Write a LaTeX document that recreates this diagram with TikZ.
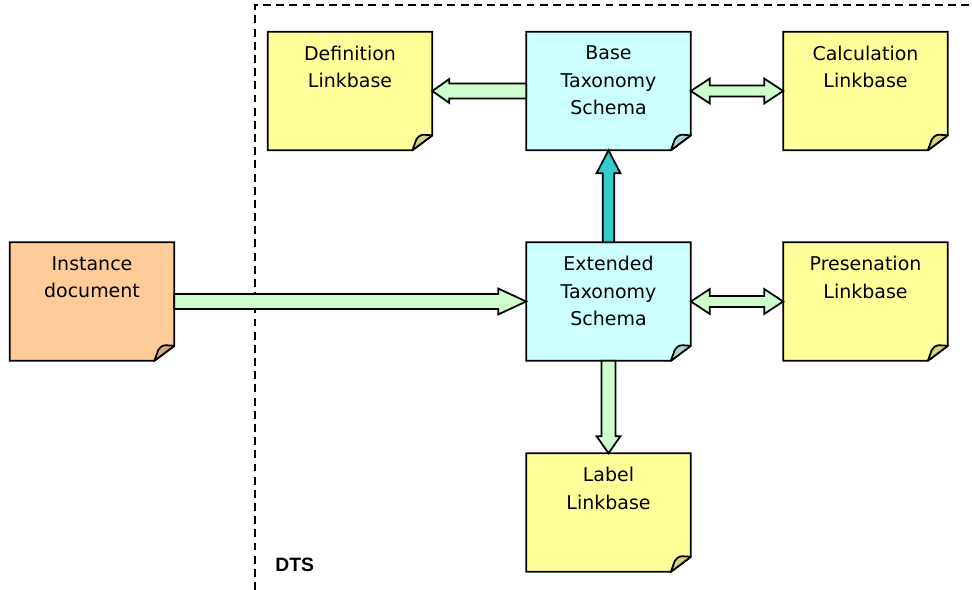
\documentclass[tikz,border=0pt]{standalone}
\usepackage{fontspec}
\setmainfont{DejaVu Sans}
\newfontfamily\dtsfont{Liberation Sans}
\usepackage{tikz}
\usetikzlibrary{calc,backgrounds}

\definecolor{notey}{HTML}{FFFF99}
\definecolor{foldy}{HTML}{D6D680}
\definecolor{notec}{HTML}{CCFFFF}
\definecolor{foldc}{HTML}{A8D6D6}
\definecolor{noteo}{HTML}{FFCC99}
\definecolor{foldo}{HTML}{D6AA80}
\definecolor{arrg}{HTML}{CCFFCC}
\definecolor{arrt}{HTML}{33CCCC}

% block arrow: style, start, tip, half shaft, half head, head length
\newcommand\blockarrow[6]{%
  \coordinate (ha) at ($(#3)!#6!(#2)$);
  \draw[#1] ($(#2)!#4!90:(#3)$) -- ($(ha)!#4!90:(#3)$) -- ($(ha)!#5!90:(#3)$) -- (#3)
    -- ($(ha)!#5!-90:(#3)$) -- ($(ha)!#4!-90:(#3)$) -- ($(#2)!#4!-90:(#3)$) -- cycle;
}
% block arrow with two heads
\newcommand\blockarrows[6]{%
  \coordinate (ha) at ($(#2)!#6!(#3)$);
  \coordinate (hb) at ($(#3)!#6!(#2)$);
  \draw[#1] (#2) -- ($(ha)!#5!90:(#3)$) -- ($(ha)!#4!90:(#3)$) -- ($(hb)!#4!90:(#3)$)
    -- ($(hb)!#5!90:(#3)$) -- (#3) -- ($(hb)!#5!-90:(#3)$) -- ($(hb)!#4!-90:(#3)$)
    -- ($(ha)!#4!-90:(#3)$) -- ($(ha)!#5!-90:(#3)$) -- cycle;
}

\begin{document}
\begin{tikzpicture}[x=0.02cm,y=-0.02cm,
  note/.style={rectangle,inner sep=0pt,minimum width=3.28cm,minimum height=2.36cm},
  notetext/.style={anchor=north,inner sep=0pt,align=center,font=\fontsize{10.8}{15.6}\selectfont},
  arr/.style={draw=black,line width=1pt,line join=miter,fill=arrg}]
\useasboundingbox (0,0) rectangle (972,590);

% DTS boundary
\draw[line width=1.1pt,dash pattern=on 4.5pt off 3pt] (255,590) -- (255,5) -- (972,5);
\node[anchor=west,inner sep=0pt,font=\dtsfont\bfseries\fontsize{11}{12}\selectfont] (dts) at (275,565) {DTS};

\node[note] (def) at (350,91) {};
\node[note] (base) at (608.5,91) {};
\node[note] (calc) at (865.5,91) {};
\node[note] (inst) at (92,301.5) {};
\node[note] (ext) at (608.5,301.5) {};
\node[note] (pres) at (865.5,301.5) {};
\node[note] (lab) at (608.5,512.5) {};

\node[notetext] (deft) at ($(def.north)+(0,14)$) {Definition\\Linkbase};
\node[notetext] (baset) at ($(base.north)+(0,14)$) {Base\\Taxonomy\\Schema};
\node[notetext] (calct) at ($(calc.north)+(0,14)$) {Calculation\\Linkbase};
\node[notetext] (instt) at ($(inst.north)+(0,14)$) {Instance\\document};
\node[notetext] (extt) at ($(ext.north)+(0,14)$) {Extended\\Taxonomy\\Schema};
\node[notetext] (prest) at ($(pres.north)+(0,14)$) {Presenation\\Linkbase};
\node[notetext] (labt) at ($(lab.north)+(0,14)$) {Label\\Linkbase};

\begin{scope}[on background layer]
\foreach \n/\c/\f in {def/notey/foldy,base/notec/foldc,calc/notey/foldy,inst/noteo/foldo,
    ext/notec/foldc,pres/notey/foldy,lab/notey/foldy}{
  \draw[line width=1pt,fill=\c] (\n.north west) -- (\n.north east) -- ($(\n.south east)+(0,-15)$)
    -- ($(\n.south east)+(-20,0)$) -- (\n.south west) -- cycle;
  \draw[line width=1pt,fill=\f,line join=round] ($(\n.south east)+(-20,0)$) -- ($(\n.south east)+(-16,-11)$)
    .. controls ($(\n.south east)+(-12,-16)$) .. ($(\n.south east)+(0,-15)$) -- cycle;
}
\end{scope}

\blockarrow{arr}{base.west}{def.east}{0.15cm}{0.24cm}{0.34cm}
\blockarrows{arr}{base.east}{calc.west}{0.11cm}{0.25cm}{0.38cm}
\blockarrow{arr,fill=arrt}{ext.north}{base.south}{0.115cm}{0.24cm}{0.46cm}
\blockarrow{arr}{inst.east}{ext.west}{0.15cm}{0.26cm}{0.56cm}
\blockarrows{arr}{ext.east}{pres.west}{0.11cm}{0.25cm}{0.38cm}
\blockarrow{arr}{ext.south}{lab.north}{0.14cm}{0.24cm}{0.34cm}
\end{tikzpicture}
\end{document}
